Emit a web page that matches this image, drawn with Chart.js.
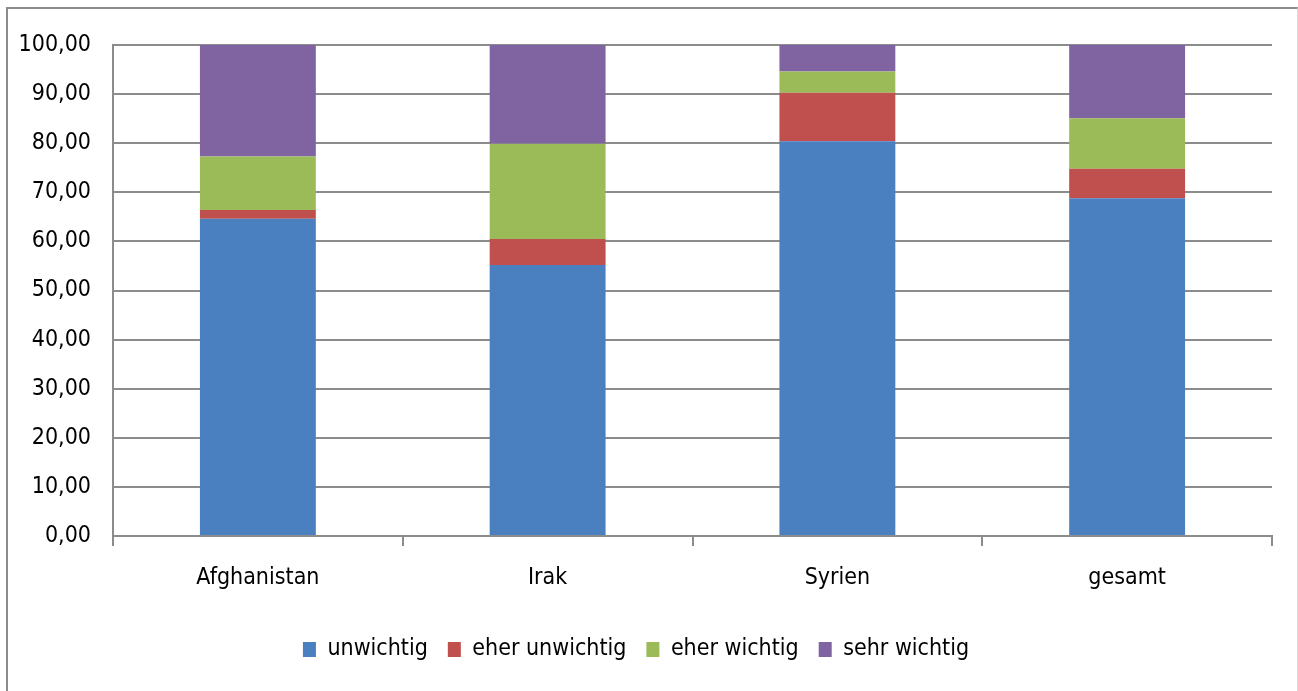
<!DOCTYPE html>
<html>
<head>
<meta charset="utf-8">
<script src="https://cdn.jsdelivr.net/npm/chart.js@4"></script>
<style>
  html, body { margin: 0; padding: 0; background: #fff; overflow: hidden; }
  #wrap { position: relative; width: 1298px; height: 691px; }
  #frame {
    position: absolute; left: 6px; top: 7px; width: 1289px; height: 700px;
    border-left: 2px solid #8c8c8c; border-top: 2px solid #8c8c8c; border-right: 1px solid #d9d9d9;
  }
  canvas { position: absolute; left: 0; top: 0; }
</style>
</head>
<body>
<div id="wrap">
  <div id="frame"></div>
  <canvas id="chart" width="1298" height="691"></canvas>
</div>
<script>
// 类别和数据
const categories = ['Afghanistan', 'Irak', 'Syrien', 'gesamt'];
const unwichtig = [64.6, 55.2, 80.4, 68.8];
const eherUnwichtig = [1.8, 5.3, 9.9, 6.0];
const eherWichtig = [10.9, 19.4, 4.3, 10.3];
const sehrWichtig = [22.7, 20.1, 5.4, 14.9];
const seriesNames = ['unwichtig', 'eher unwichtig', 'eher wichtig', 'sehr wichtig'];
const seriesColors = ['#4a7fc0', '#c0504d', '#9bbb59', '#8064a2'];

const FONT = '"Liberation Sans Narrow", "DejaVu Sans Condensed", "Open Sans", sans-serif';
const GRID = '#8c8c8c';

var datasets = [unwichtig, eherUnwichtig, eherWichtig, sehrWichtig].map((vals, i) => ({
  label: seriesNames[i],
  data: vals,
  backgroundColor: seriesColors[i],
  borderWidth: 0,
  categoryPercentage: 1.0,
  barPercentage: 0.4
}));

new Chart(document.getElementById('chart'), {
  type: 'bar',
  data: { labels: categories, datasets: datasets },
  options: {
    responsive: false,
    animation: false,
    layout: { padding: { top: 45, right: 26, bottom: 20, left: 0 } },
    scales: {
      x: {
        stacked: true,
        grid: {
          offset: true,
          drawOnChartArea: false,
          drawTicks: true,
          tickLength: 10,
          color: GRID,
          lineWidth: 2
        },
        border: { display: true, color: GRID, width: 2 },
        ticks: {
          color: '#000',
          padding: 18,
          font: { family: FONT, size: 23 }
        },
        afterFit: function(scale) { scale.height = 82; }
      },
      y: {
        stacked: true,
        min: 0,
        max: 100,
        grid: { color: GRID, lineWidth: 2, drawTicks: false },
        border: { display: true, color: GRID, width: 2 },
        ticks: {
          stepSize: 10,
          color: '#000',
          padding: 22,
          font: { family: FONT, size: 23 },
          callback: function(val) { return val.toFixed(2).replace('.', ','); }
        },
        afterFit: function(scale) { scale.width = 113; }
      }
    },
    plugins: {
      legend: {
        position: 'bottom',
        labels: {
          color: '#000',
          font: { family: FONT, size: 23 },
          boxWidth: 13,
          boxHeight: 15,
          padding: 20
        }
      },
      tooltip: { enabled: false }
    }
  }
});
</script>
</body>
</html>
